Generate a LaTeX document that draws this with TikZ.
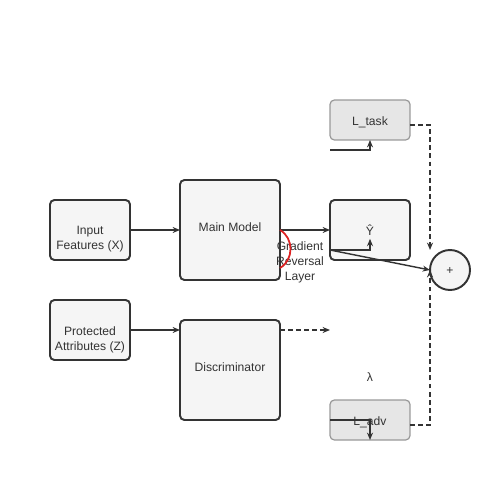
\documentclass[tikz,border=0pt]{standalone}
\usepackage{fontspec}
\setmainfont{Liberation Sans}
\usetikzlibrary{arrows.meta,calc}
\definecolor{ink}{HTML}{333333}
\definecolor{boxfill}{HTML}{F5F5F5}
\definecolor{lossfill}{HTML}{E6E6E6}
\definecolor{lossdraw}{HTML}{999999}
\definecolor{grlred}{HTML}{DD2222}
\begin{document}
\begin{tikzpicture}[x=0.02cm,y=-0.02cm,
  every node/.style={font=\fontsize{6.9pt}{8.5pt}\selectfont, text=ink, inner sep=0pt, outer sep=0pt},
  mainbox/.style={draw=ink, line width=1.1pt, fill=boxfill, rounded corners=2.5pt},
  lossbox/.style={draw=lossdraw, line width=0.7pt, fill=lossfill, rounded corners=2.5pt},
  lbl/.style={align=center},
  conn/.style={draw=ink, line width=0.8pt, -{Stealth[length=4.2pt,width=3.4pt]}},
  dconn/.style={conn, dash pattern=on 2.8pt off 1.8pt}
]
\useasboundingbox (0,0) rectangle (500,500);
% boxes
\node[mainbox, minimum width=1.6cm, minimum height=1.2cm] (inp) at (90,230) {};
\node[mainbox, minimum width=1.6cm, minimum height=1.2cm] (prot) at (90,330) {};
\node[mainbox, minimum width=2cm, minimum height=2cm] (mm) at (230,230) {};
\node[mainbox, minimum width=2cm, minimum height=2cm] (disc) at (230,370) {};
\node[mainbox, minimum width=1.6cm, minimum height=1.2cm] (yhat) at (370,230) {};
\node[lossbox, minimum width=1.6cm, minimum height=0.8cm] (ltask) at (370,120) {};
\node[lossbox, minimum width=1.6cm, minimum height=0.8cm] (ladv) at (370,420) {};
\node[draw=ink, line width=1.1pt, fill=boxfill, circle, minimum size=0.8cm] (plus) at (450,270) {};
% texts
\node[lbl] (tinp) at (90,239.5) {Input\\Features (X)};
\node[lbl] (tprot) at (90,339.5) {Protected\\Attributes (Z)};
\node (tmm) at (230,227) {Main Model};
\node (tdisc) at (230,367) {Discriminator};
\node (tyhat) at (370,230) {Ŷ};
\node (tltask) at (370,122) {L\_task};
\node (tladv) at (370,422) {L\_adv};
\node (tplus) at (450,271) {+};
\node (tlam) at (370,377) {λ};
\node[lbl] (tgrl) at (300,262) {Gradient\\Reversal\\Layer};
% coordinates
\coordinate (yh1) at (330,250);
\coordinate (lt1) at (330,150);
\coordinate (la1) at (330,420);
\coordinate (dend) at (330,330);
\coordinate (pin1) at (430,250);
% connectors
\draw[conn] (inp.east) -- (mm.west);
\draw[conn] (prot.east) -- (disc.west |- prot.east);
\draw[conn] (mm.east) -- (yhat.west);
\draw[dconn] (disc.east |- dend) -- (dend);
\draw[conn] (yh1) -| ([yshift=-2pt]tyhat.south);
\draw[conn] (yh1) -- (plus.west);
\draw[conn] (lt1) -| (ltask.south);
\draw[conn] (la1) -| (ladv.south);
\draw[dconn] ($(ltask.east)+(0,5)$) -| (pin1);
\draw[dconn] ($(ladv.east)+(0,5)$) -| (plus.west);
% gradient reversal arc
\draw[grlred, line width=1pt] (280,230) .. controls (294,238) and (294,260) .. (280,268);
\end{tikzpicture}
\end{document}
